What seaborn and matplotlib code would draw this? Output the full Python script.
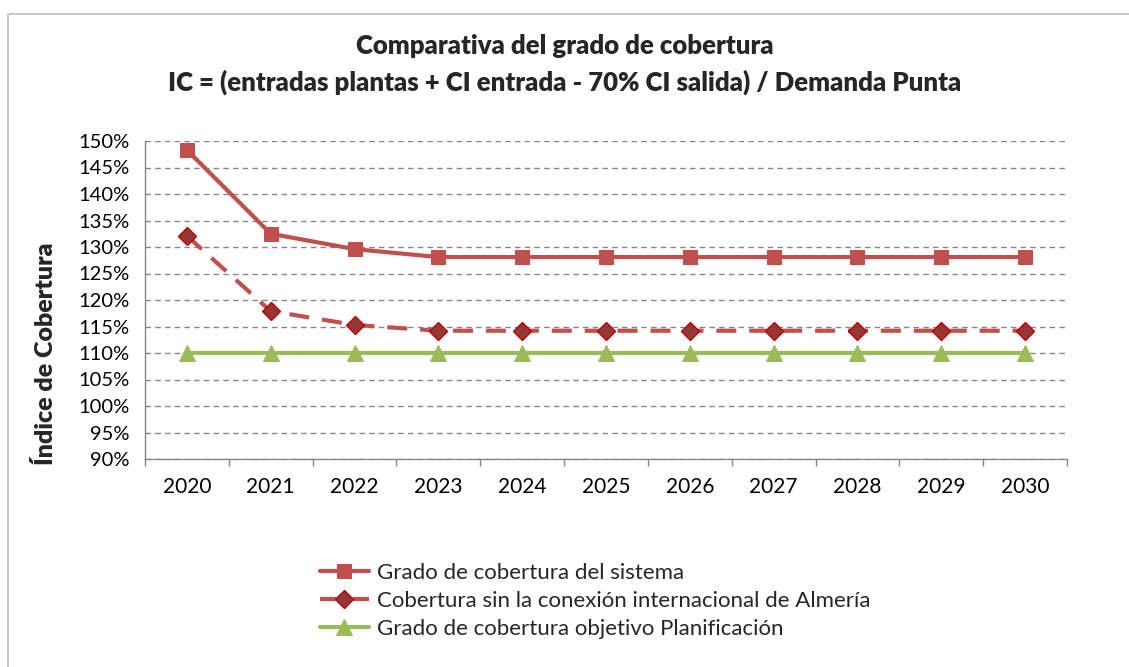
import matplotlib
matplotlib.use("Agg")
import matplotlib.pyplot as plt
import seaborn as sns
import pandas as pd
from matplotlib.patches import Rectangle
from matplotlib.ticker import FuncFormatter, MultipleLocator

years = ["2020", "2021", "2022", "2023", "2024", "2025", "2026", "2027", "2028", "2029", "2030"]
grado_sistema = [148.3, 132.5, 129.6, 128.1, 128.1, 128.1, 128.1, 128.1, 128.1, 128.1, 128.1]
sin_almeria = [132.1, 117.9, 115.3, 114.2, 114.2, 114.2, 114.2, 114.2, 114.2, 114.2, 114.2]
objetivo = [110, 110, 110, 110, 110, 110, 110, 110, 110, 110, 110]
series_names = ["Grado de cobertura del sistema",
                "Cobertura sin la conexión internacional de Almería",
                "Grado de cobertura objetivo Planificación"]

sns.set_theme(style="white")
plt.rcParams['font.family'] = ['Lato', 'DejaVu Sans']

fig = plt.figure(figsize=(11.29, 6.67), dpi=100)
W, H = 1129, 667
ax = fig.add_axes([145 / W, 1 - 459 / H, (1067 - 145) / W, (459 - 141) / H])

fig.patches.append(Rectangle((8 / W, -0.1), 1.2, 1 - 14 / H + 0.1, transform=fig.transFigure,
                             fill=False, edgecolor="#BFBFBF", linewidth=1.2, zorder=0))

x = list(range(len(years)))
df1 = pd.DataFrame({"x": x, "y": grado_sistema})
df2 = pd.DataFrame({"x": x, "y": sin_almeria})
df3 = pd.DataFrame({"x": x, "y": objetivo})

red = "#C0504D"
green = "#9BBB59"
lw = 3.0

sns.lineplot(data=df3, x="x", y="y", ax=ax, color=green, linewidth=lw, marker="^",
             markersize=11, markerfacecolor=green, markeredgecolor=green, label=series_names[2], zorder=3)
sns.lineplot(data=df2, x="x", y="y", ax=ax, color=red, linewidth=lw, marker="D",
             markersize=9, markerfacecolor="#953735", markeredgecolor="#C00000", markeredgewidth=1,
             label=series_names[1], zorder=4)
ax.lines[-1].set_dashes([4.8, 3.1])
sns.lineplot(data=df1, x="x", y="y", ax=ax, color=red, linewidth=lw, marker="s",
             markersize=10.5, markerfacecolor=red, markeredgecolor=red, label=series_names[0], zorder=5)

ax.set_xlim(-0.5, len(years) - 0.5)
ax.set_ylim(90, 150)
ax.yaxis.set_major_locator(MultipleLocator(5))
ax.yaxis.set_major_formatter(FuncFormatter(lambda v, p: f"{int(round(v))}%"))
ax.set_xticks(x)
ax.set_xticklabels(years)
ax.set_xticks([i - 0.5 for i in range(len(years) + 1)], minor=True)
ax.tick_params(axis="x", which="major", length=0, pad=13, labelsize=15, colors="black")
ax.tick_params(axis="x", which="minor", length=5, width=1, color="#868686", direction="out", bottom=True)
ax.tick_params(axis="y", which="major", length=0, pad=11, labelsize=14.5, colors="black")
ax.grid(axis="y", linestyle=(0, (4, 3)), color="#868686", linewidth=1)
ax.grid(axis="x", visible=False)
for s in ["top", "right"]:
    ax.spines[s].set_visible(False)
for s in ["left", "bottom"]:
    ax.spines[s].set_color("#868686")
    ax.spines[s].set_linewidth(1)

ax.set_xlabel("")
ax.set_ylabel("Índice de Cobertura", fontsize=18, fontweight="heavy")
ax.yaxis.set_label_coords((57 - 145) / (1067 - 145), (459 - 354) / (459 - 141))

fig.text(0.5 + 0.0, 1 - 46 / H, "Comparativa del grado de cobertura", ha="center", va="center",
         fontsize=18.5, fontweight="heavy")
fig.text(0.5 - 0.0, 1 - 82 / H, "IC = (entradas plantas + CI entrada - 70% CI salida) / Demanda Punta",
         ha="center", va="center", fontsize=18.5, fontweight="heavy")

handles, labels = ax.get_legend_handles_labels()
order = [2, 1, 0]
leg = ax.legend([handles[i] for i in order], [labels[i] for i in order],
                loc="upper left", bbox_to_anchor=(311 / W, 1 - 554 / H), bbox_transform=fig.transFigure,
                frameon=False, fontsize=16, handlelength=2.2, handletextpad=0.35, labelspacing=0.36,
                borderaxespad=0)

fig.savefig("out.png", dpi=100)
